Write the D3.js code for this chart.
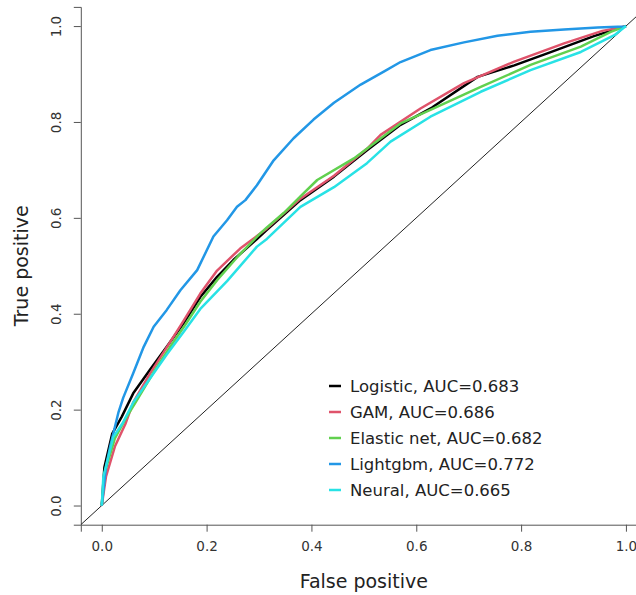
<!DOCTYPE html>
<html>
<head>
<meta charset="utf-8">
<script src="https://cdn.jsdelivr.net/npm/d3@7"></script>
<style>
  body { margin: 0; background: #fff; }
  svg { display: block; font-family: "DejaVu Sans", sans-serif; }
</style>
</head>
<body>
<svg id="roc" width="636" height="595"></svg>
<script>
// ROC points (false positive rate, true positive rate)
var logisticFpr = [0, 0.005, 0.02, 0.038, 0.06, 0.092, 0.124, 0.156, 0.188, 0.22, 0.251, 0.296, 0.315, 0.379, 0.443, 0.506, 0.57, 0.63, 0.717, 0.787, 0.85, 0.939, 1]
var logisticTpr = [0, 0.08, 0.15, 0.185, 0.234, 0.283, 0.331, 0.38, 0.435, 0.477, 0.512, 0.556, 0.575, 0.637, 0.686, 0.741, 0.794, 0.83, 0.894, 0.918, 0.943, 0.979, 1]

var gamFpr = [0, 0.008, 0.025, 0.045, 0.06, 0.092, 0.124, 0.156, 0.188, 0.22, 0.264, 0.296, 0.315, 0.379, 0.443, 0.506, 0.532, 0.608, 0.691, 0.787, 0.882, 0.955, 0.99, 1]
var gamTpr = [0, 0.06, 0.123, 0.17, 0.215, 0.275, 0.33, 0.385, 0.442, 0.49, 0.536, 0.562, 0.578, 0.64, 0.688, 0.744, 0.773, 0.828, 0.881, 0.926, 0.964, 0.99, 0.997, 1]

var elasticFpr = [0, 0.006, 0.025, 0.045, 0.07, 0.1, 0.13, 0.16, 0.188, 0.22, 0.26, 0.3, 0.315, 0.347, 0.379, 0.411, 0.481, 0.57, 0.627, 0.723, 0.818, 0.914, 0.971, 1]
var elasticTpr = [0, 0.07, 0.14, 0.18, 0.225, 0.28, 0.33, 0.378, 0.425, 0.47, 0.52, 0.565, 0.58, 0.61, 0.645, 0.679, 0.724, 0.797, 0.825, 0.873, 0.919, 0.957, 0.988, 1]

var lightgbmFpr = [0, 0.008, 0.016, 0.032, 0.041, 0.06, 0.08, 0.099, 0.124, 0.15, 0.182, 0.213, 0.239, 0.258, 0.274, 0.296, 0.328, 0.366, 0.404, 0.443, 0.494, 0.538, 0.57, 0.627, 0.691, 0.755, 0.818, 0.882, 0.946, 0.997, 1]
var lightgbmTpr = [0, 0.08, 0.123, 0.195, 0.225, 0.276, 0.331, 0.373, 0.408, 0.449, 0.491, 0.561, 0.595, 0.623, 0.637, 0.668, 0.72, 0.766, 0.805, 0.84, 0.878, 0.905, 0.925, 0.95, 0.966, 0.98, 0.988, 0.993, 0.997, 0.999, 1]

var neuralFpr = [0, 0.003, 0.022, 0.04, 0.06, 0.092, 0.124, 0.156, 0.188, 0.239, 0.296, 0.315, 0.379, 0.443, 0.506, 0.551, 0.627, 0.723, 0.818, 0.914, 0.978, 1]
var neuralTpr = [0, 0.06, 0.143, 0.172, 0.215, 0.265, 0.315, 0.362, 0.41, 0.468, 0.54, 0.556, 0.623, 0.664, 0.714, 0.759, 0.811, 0.863, 0.908, 0.946, 0.981, 1]

var modelNames = ["Logistic", "GAM", "Elastic net", "Lightgbm", "Neural"]
var aucValues = ["0.683", "0.686", "0.682", "0.772", "0.665"]
var modelColors = ["#000000", "#DF536B", "#61D04F", "#2297E6", "#28E2E5"]
var tickValues = [0, 0.2, 0.4, 0.6, 0.8, 1.0]

var curves = [
  {fpr: logisticFpr, tpr: logisticTpr},
  {fpr: gamFpr, tpr: gamTpr},
  {fpr: elasticFpr, tpr: elasticTpr},
  {fpr: lightgbmFpr, tpr: lightgbmTpr},
  {fpr: neuralFpr, tpr: neuralTpr}
]

// plot region (R style, 4% padding each side)
var plot = {left: 80.8, right: 646.9, top: 6.9, bottom: 524.7}

var svg = d3.select("#roc")

var x = d3.scaleLinear().domain([-0.04, 1.04]).range([plot.left, plot.right])
var y = d3.scaleLinear().domain([-0.04, 1.04]).range([plot.bottom, plot.top])

svg.append("defs").append("clipPath").attr("id", "clip")
  .append("rect")
  .attr("x", plot.left).attr("y", plot.top)
  .attr("width", plot.right - plot.left).attr("height", plot.bottom - plot.top)

// axes
var xAxis = svg.append("g")
  .attr("transform", `translate(0, ${plot.bottom})`)
  .call(d3.axisBottom(x).tickValues(tickValues).tickFormat(d3.format(".1f")).tickSizeOuter(0).tickSize(7).tickPadding(10))
xAxis.selectAll("path, line").attr("stroke", "#555")
xAxis.selectAll("text").attr("font-size", 13.5).attr("fill", "#333")
  .attr("font-family", "DejaVu Sans")

var yAxis = svg.append("g")
  .attr("transform", `translate(${plot.left}, 0)`)
  .call(d3.axisLeft(y).tickValues(tickValues).tickFormat(d3.format(".1f")).tickSizeOuter(0).tickSize(7))
yAxis.selectAll("path, line").attr("stroke", "#555")
yAxis.selectAll("text")
  .attr("font-size", 13.5).attr("fill", "#333").attr("font-family", "DejaVu Sans")
  .attr("x", null).attr("dy", null)
  .attr("text-anchor", "middle")
  .attr("transform", "translate(-25,0) rotate(-90)")
  .attr("dominant-baseline", "central")

// axis titles
svg.append("text")
  .attr("x", (plot.left + plot.right) / 2).attr("y", 588)
  .attr("text-anchor", "middle").attr("font-size", 19).attr("fill", "#222")
  .text("False positive")

svg.append("text")
  .attr("transform", `translate(28, ${(plot.top + plot.bottom) / 2}) rotate(-90)`)
  .attr("text-anchor", "middle").attr("font-size", 19).attr("fill", "#222")
  .text("True positive")

var g = svg.append("g").attr("clip-path", "url(#clip)")

// chance diagonal
g.append("line")
  .attr("x1", x(-0.04)).attr("y1", y(-0.04))
  .attr("x2", x(1.04)).attr("y2", y(1.04))
  .attr("stroke", "#222").attr("stroke-width", 1)

var line = d3.line()
  .x(d => x(d[0]))
  .y(d => y(d[1]))

curves.forEach(function (c, i) {
  var pts = c.fpr.map((f, k) => [f, c.tpr[k]])
  g.append("path")
    .datum(pts)
    .attr("d", line)
    .attr("fill", "none")
    .attr("stroke", modelColors[i])
    .attr("stroke-width", 2.5)
    .attr("stroke-linejoin", "round")
})

// legend
var legend = svg.append("g").attr("transform", "translate(329, 386)")
modelNames.forEach(function (name, i) {
  var row = legend.append("g").attr("transform", `translate(0, ${i * 26})`)
  row.append("line")
    .attr("x1", 0).attr("x2", 12).attr("y1", 0).attr("y2", 0)
    .attr("stroke", modelColors[i]).attr("stroke-width", 2.5)
  row.append("text")
    .attr("x", 21).attr("y", 0)
    .attr("dominant-baseline", "central")
    .attr("font-size", 16.5).attr("fill", "#222")
    .text(name + ", AUC=" + aucValues[i])
})
</script>
</body>
</html>
